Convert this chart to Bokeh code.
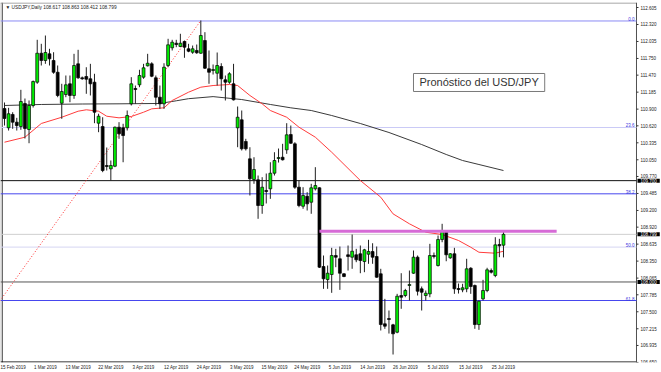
from bokeh.plotting import figure
from bokeh.models import ColumnDataSource, Range1d, FixedTicker, Label
from bokeh.embed import file_html
from bokeh.resources import INLINE
from bokeh.core.properties import value

# ---------------- data ----------------
symbol = "USDJPY,Daily"
chart_title = "Pronóstico del USD/JPY"

opens = [110.910, 110.587, 110.810, 110.681, 110.608, 110.994, 110.558, 110.961, 111.352, 111.838,
         111.716, 111.828, 111.716, 111.519, 110.999, 111.145, 111.325, 111.129, 111.660, 111.425,
         111.447, 111.409, 111.352, 110.664, 110.608, 109.954, 109.898, 109.942, 110.597, 110.587,
         110.587, 110.989, 111.246, 111.308, 111.436, 111.627, 111.660, 111.425, 111.100, 110.989,
         111.632, 111.929, 112.006, 111.951, 112.035, 111.912, 111.855, 111.884, 111.838, 112.051,
         111.577, 111.548, 111.503, 111.615, 111.392, 111.352, 111.325, 110.587, 110.721, 110.357,
         110.066, 109.719, 109.714, 109.283, 109.535, 109.563, 109.825, 110.071, 110.093, 110.217,
         110.474, 110.318, 109.590, 109.271, 109.439, 109.338, 109.563, 109.580, 108.259, 108.041,
         108.125, 108.444, 108.389, 108.137, 108.456, 108.416, 108.456, 108.473, 108.343, 108.466,
         108.511, 108.427, 108.137, 107.298, 107.387, 107.281, 107.157, 107.773, 107.773, 107.941,
         108.147, 108.416, 107.885, 107.773, 107.801, 108.444, 108.276, 108.712, 108.847, 108.405,
         108.473, 107.890, 107.868, 107.885, 108.231, 107.941, 107.286, 107.717, 107.857, 108.192,
         108.108, 108.628, 108.617]
highs = [111.011, 110.922, 110.848, 110.754, 111.224, 111.078, 111.045, 111.380, 112.063, 111.996,
         112.135, 111.912, 111.855, 111.632, 111.325, 111.464, 111.464, 111.828, 111.895, 111.447,
         111.603, 111.660, 111.493, 110.822, 110.764, 110.256, 110.038, 110.608, 110.681, 110.654,
         110.877, 111.436, 111.296, 111.560, 111.660, 111.828, 111.687, 111.464, 111.296, 111.670,
         112.080, 112.063, 112.063, 112.164, 112.051, 111.996, 111.967, 111.984, 112.387, 112.191,
         111.884, 111.649, 111.850, 111.670, 111.464, 111.519, 111.660, 110.944, 110.877, 110.402,
         110.261, 110.093, 109.786, 109.758, 109.820, 110.009, 110.177, 110.239, 110.318, 110.664,
         110.625, 110.345, 109.702, 109.590, 109.506, 109.647, 109.926, 109.590, 108.444, 108.276,
         108.573, 108.556, 108.595, 108.147, 108.612, 108.796, 108.556, 108.612, 108.556, 108.707,
         108.650, 108.595, 108.221, 107.717, 107.521, 107.298, 107.801, 108.147, 107.885, 108.192,
         108.528, 108.444, 107.924, 107.857, 108.640, 108.494, 108.779, 108.976, 108.864, 108.483,
         108.573, 107.974, 107.969, 108.389, 108.248, 107.957, 107.689, 108.036, 108.238, 108.226,
         108.751, 108.724, 108.863]
lows = [110.625, 110.541, 110.570, 110.541, 110.553, 110.407, 110.328, 110.927, 111.325, 111.632,
        111.660, 111.632, 111.493, 111.100, 110.738, 111.100, 111.016, 111.073, 111.409, 111.392,
        111.157, 111.129, 110.664, 110.513, 109.842, 109.870, 109.702, 109.926, 110.402, 110.009,
        110.541, 110.961, 110.989, 111.268, 111.409, 111.615, 111.436, 110.961, 110.905, 110.905,
        111.603, 111.884, 111.939, 111.939, 111.761, 111.855, 111.828, 111.828, 111.828, 111.573,
        111.325, 111.481, 111.296, 111.212, 111.045, 111.325, 111.045, 110.261, 110.206, 110.206,
        109.451, 109.647, 109.060, 109.144, 109.317, 109.395, 109.786, 110.004, 110.038, 110.150,
        110.318, 109.563, 109.254, 109.228, 109.199, 109.144, 109.535, 108.234, 107.885, 107.885,
        107.818, 108.248, 107.868, 108.080, 108.192, 108.221, 108.332, 108.147, 108.164, 108.305,
        108.305, 108.070, 107.186, 107.214, 107.135, 106.783, 107.140, 107.550, 107.744, 107.689,
        108.137, 107.773, 107.521, 107.689, 107.744, 108.394, 108.259, 108.667, 108.348, 108.389,
        107.801, 107.806, 107.828, 107.828, 107.801, 107.214, 107.197, 107.689, 107.828, 108.142,
        108.080, 108.416, 108.412]
closes = [110.743, 110.822, 110.681, 110.625, 111.028, 110.575, 110.961, 111.363, 111.838, 111.716,
          111.850, 111.744, 111.519, 111.129, 111.196, 111.308, 111.129, 111.632, 111.425, 111.409,
          111.402, 111.325, 110.848, 110.781, 109.870, 109.937, 109.954, 110.597, 110.486, 110.457,
          110.793, 111.325, 111.229, 111.464, 111.593, 111.670, 111.452, 111.100, 110.989, 111.603,
          111.979, 112.023, 111.984, 112.006, 111.939, 111.872, 111.912, 111.845, 112.135, 111.587,
          111.519, 111.565, 111.632, 111.409, 111.352, 111.493, 111.056, 110.764, 110.234, 110.234,
          109.731, 109.887, 109.283, 109.590, 109.518, 109.825, 110.038, 110.088, 110.050, 110.469,
          110.328, 109.590, 109.283, 109.451, 109.311, 109.580, 109.618, 108.248, 108.053, 108.147,
          108.444, 108.416, 108.147, 108.092, 108.427, 108.516, 108.372, 108.360, 108.539, 108.511,
          108.416, 108.080, 107.286, 107.258, 107.370, 107.130, 107.761, 107.744, 107.857, 107.957,
          108.416, 107.845, 107.828, 107.811, 108.444, 108.427, 108.712, 108.847, 108.456, 108.473,
          107.885, 107.873, 107.902, 108.221, 107.924, 107.286, 107.677, 107.857, 108.204, 108.164,
          108.623, 108.606, 108.799]

# x-axis labels (one every 8 bars)
date_label_bars = [0, 8, 16, 24, 32, 40, 48, 56, 64, 72, 80, 88, 96, 104, 112, 120]
date_labels = ["15 Feb 2019", "1 Mar 2019", "13 Mar 2019", "22 Mar 2019", "3 Apr 2019",
               "12 Apr 2019", "24 Apr 2019", "3 May 2019", "15 May 2019", "24 May 2019",
               "5 Jun 2019", "14 Jun 2019", "26 Jun 2019", "5 Jul 2019", "15 Jul 2019",
               "25 Jul 2019"]

# price scale labels
price_ticks = [112.605, 112.320, 112.035, 111.750, 111.470, 111.185, 110.900, 110.620, 110.335,
               110.050, 109.770, 109.485, 109.200, 108.920, 108.635, 108.350, 108.065, 107.785,
               107.500, 107.215, 106.935, 106.650]

# moving averages (read at sample bars)
ma_red_bars = [0, 5, 9, 14, 18, 20, 23, 25, 28, 31, 34, 36, 39, 41, 45, 48, 51, 55, 57, 60, 63,
               65, 69, 72, 76, 80, 87, 92, 95, 99, 103, 107, 111, 114, 116, 120, 122]
ma_red_vals = [110.345, 110.429, 110.659, 110.764, 110.865, 110.889, 110.865, 110.781, 110.754,
               110.776, 110.848, 110.905, 110.922, 111.045, 111.184, 111.268, 111.296, 111.313,
               111.296, 111.129, 110.989, 110.877, 110.764, 110.597, 110.429, 110.177, 109.702,
               109.422, 109.143, 108.976, 108.835, 108.796, 108.696, 108.583, 108.499, 108.483,
               108.516]
ma_black_bars = [0, 9, 19, 28, 38, 42, 45, 51, 58, 65, 70, 75, 80, 87, 94, 102, 108, 112, 116, 122]
ma_black_vals = [110.961, 110.978, 110.986, 110.989, 110.995, 111.040, 111.075, 111.110, 111.061,
                 110.978, 110.922, 110.877, 110.793, 110.659, 110.508, 110.306, 110.139, 110.038,
                 109.971, 109.870]

# Fibonacci retracement
fib_names = ["0.0", "23.6", "38.2", "50.0", "61.8"]
fib_prices = [112.379, 110.592, 109.479, 108.585, 107.689]
fib_trend_bars = [-31, 48]
fib_trend_prices = [104.820, 112.387]

# horizontal levels
resistance_price = 109.700
support_price = 108.000
last_price = closes[-1]
zone_price = 108.852
zone_bars = [77, 135]

# ---------------- view geometry (not data) ----------------
VIEW_LEFT, VIEW_RIGHT = -0.978, 160.636     # bar units across the whole canvas width
AXIS_BAR = 154.52                            # where the price scale line sits
Y_TOP, Y_BOTTOM = 112.689, 106.649
PX = 1.0 / 59.6                              # price per pixel
BAR_PX = 1.0 / 4.09                          # bars per pixel
FONT = "Liberation Sans"

p = figure(width=661, height=372, output_backend="svg", toolbar_location=None,
           x_range=Range1d(VIEW_LEFT, VIEW_RIGHT), y_range=Range1d(Y_BOTTOM, Y_TOP),
           y_axis_location=None, min_border_left=0, min_border_right=0,
           min_border_top=2, min_border_bottom=10)
p.xgrid.visible = False
p.ygrid.visible = False
p.outline_line_color = None
p.background_fill_color = "white"
p.border_fill_color = "white"

# bottom (time) axis
tick_pos = [b + 2 for b in date_label_bars]
p.xaxis.ticker = FixedTicker(ticks=tick_pos)
p.xaxis.major_label_overrides = {t: lab for t, lab in zip(tick_pos, date_labels)}
p.xaxis.major_label_text_font_size = "4.5px"
p.xaxis.major_label_text_font = FONT
p.xaxis.major_label_text_color = "#222222"
p.xaxis.major_tick_out = 0
p.xaxis.major_tick_in = 0
p.xaxis.minor_tick_line_color = None
p.xaxis.major_label_standoff = 2
p.xaxis.axis_line_color = None

# chart frame lines
p.segment(x0=[VIEW_LEFT + 0.5 * BAR_PX, VIEW_LEFT + 2 * BAR_PX], x1=[VIEW_LEFT + 0.5 * BAR_PX, VIEW_LEFT + 2 * BAR_PX],
          y0=[Y_BOTTOM, Y_BOTTOM], y1=[Y_TOP, Y_TOP], line_color=["#9a9a9a", "#6a6a6a"], line_width=1)
p.segment(x0=[VIEW_LEFT, VIEW_LEFT], x1=[AXIS_BAR, AXIS_BAR],
          y0=[Y_TOP - 0.5 * PX, Y_BOTTOM + 0.5 * PX], y1=[Y_TOP - 0.5 * PX, Y_BOTTOM + 0.5 * PX],
          line_color=["#8a8a8a", "#000000"], line_width=1)
p.segment(x0=[AXIS_BAR], x1=[AXIS_BAR], y0=[Y_BOTTOM], y1=[Y_TOP], line_color="#505050", line_width=1)

# price scale: tick marks and labels
n_t = len(price_ticks)
p.segment(x0=[AXIS_BAR] * n_t, x1=[AXIS_BAR + 2 * BAR_PX] * n_t, y0=price_ticks, y1=price_ticks,
          line_color="#333333", line_width=1)
p.text(x=[AXIS_BAR] * n_t, y=price_ticks, text=[f"{t:.3f}" for t in price_ticks], x_offset=4,
       text_align="left", text_baseline="middle", text_font_size="4.5px",
       text_color="#222222", text_font=value(FONT))

# horizontal levels (Fibonacci, resistance, support, current price)
level_prices = fib_prices + [resistance_price, support_price, last_price]
level_colors = ["#8a8af4", "#cacaf6", "#4646ee", "#d6d6f2", "#4646ee",
                "#111111", "#555555", "#cfcfcf"]
n_l = len(level_prices)
p.segment(x0=[VIEW_LEFT] * n_l, x1=[AXIS_BAR] * n_l, y0=level_prices, y1=level_prices,
          line_color=level_colors, line_width=1)
p.text(x=[AXIS_BAR] * len(fib_prices), y=fib_prices, text=fib_names, x_offset=-2,
       text_align="right", text_baseline="bottom", text_font_size="4.5px",
       text_color="#3a3ae0", text_font=value(FONT))

# moving averages and Fibonacci trend line
p.line(ma_black_bars, ma_black_vals, line_color="#3a3a3a", line_width=1)
p.line(ma_red_bars, ma_red_vals, line_color="#ff3c3c", line_width=1)
p.line(fib_trend_bars, fib_trend_prices, line_color="#ff2a2a", line_width=1, line_dash="1 2")

# candles
idx = list(range(len(opens)))
up = [c >= o for o, c in zip(opens, closes)]
src = ColumnDataSource(dict(
    x=idx, o=opens, h=highs, l=lows, c=closes,
    top=[max(o, c) for o, c in zip(opens, closes)],
    bottom=[min(o, c) for o, c in zip(opens, closes)],
    fill=["#00ee00" if u else "#000000" for u in up],
))
p.segment(x0="x", y0="h", x1="x", y1="l", source=src, line_color="#202020", line_width=1)
p.vbar(x="x", width=0.7, top="top", bottom="bottom", fill_color="fill",
       line_color="#000000", line_width=0.7, source=src)

# magenta resistance zone
p.segment(x0=[zone_bars[0]], y0=[zone_price], x1=[zone_bars[1]], y1=[zone_price],
          line_color="#d66bd6", line_width=3)

# header text
header = f"\u25BC {symbol}  {opens[-1]:.3f} {highs[-1]:.3f} {lows[-1]:.3f} {closes[-1]:.3f}"
p.add_layout(Label(x=VIEW_LEFT + 5 * BAR_PX, y=Y_TOP - 5 * PX, text=header, text_font_size="4.8px",
                   text_font=FONT, text_color="#222222", text_baseline="middle",
                   text_align="left"))

# text box with shadow
box_x, box_y = 100.0, 111.498
p.add_layout(Label(x=box_x, y=box_y, text=chart_title, text_font_size="11px",
                   text_font=FONT, text_alpha=0.0, text_align="left", text_baseline="top",
                   background_fill_color="#8a8a8a", background_fill_alpha=0.45,
                   padding=(6, 3), x_offset=3, y_offset=-3))
p.add_layout(Label(x=box_x, y=box_y, text=chart_title, text_font_size="11px",
                   text_font=FONT, text_color="#333333", text_align="left",
                   text_baseline="top", background_fill_color="white",
                   border_line_color="#7a7a7a", border_line_width=1, padding=(6, 3)))

# highlighted prices on the scale
for price in [resistance_price, last_price, support_price]:
    p.add_layout(Label(x=AXIS_BAR, y=price, x_offset=1, text=f"{price:.3f}",
                       text_font_size="4.5px", text_font=FONT, text_color="white",
                       text_align="left", text_baseline="middle",
                       background_fill_color="black", padding=(3, 0)))

open("out.html", "w").write(file_html(p, INLINE))
